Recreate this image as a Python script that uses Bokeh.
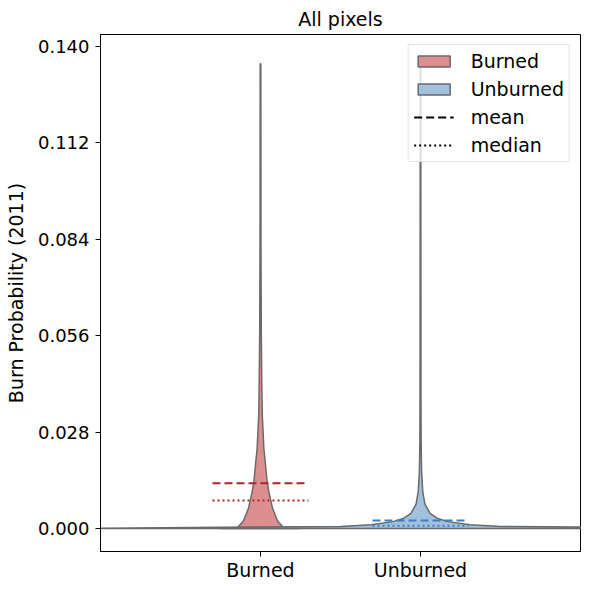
from bokeh.plotting import figure
from bokeh.models import (Range1d, FixedTicker, NumeralTickFormatter, Legend,
                          LegendItem)
from bokeh.embed import file_html
from bokeh.resources import INLINE

# Groups
categories = ["Burned", "Unburned"]

# Kernel-density profiles: burn probability vs. violin half-width (x units)
burned_y = [0.0, 0.0003, 0.002, 0.003, 0.0059, 0.0107, 0.0137, 0.0186,
            0.0233, 0.0331, 0.0427, 0.0572, 0.0805, 0.1095, 0.135]
burned_w = [0.25, 0.144, 0.109, 0.1, 0.075, 0.052, 0.041, 0.031,
            0.021, 0.011, 0.008, 0.005, 0.003, 0.0025, 0.002]

unburned_y = [0.0, 0.0006, 0.0011, 0.002, 0.003, 0.0044, 0.007, 0.0107,
              0.0166, 0.025, 0.037, 0.07, 0.1, 0.1365]
unburned_w = [2.2, 0.5, 0.31, 0.17, 0.104, 0.06, 0.028, 0.014,
              0.007, 0.004, 0.003, 0.0025, 0.002, 0.002]

# Summary statistics
means = [0.01316, 0.00232]
medians = [0.00813, 0.00078]

y_ticks = [0.0, 0.028, 0.056, 0.084, 0.112, 0.140]

FONT = "DejaVu Sans"
fills = ["#dc8f8f", "#a2c1de"]
stat_colors = ["#b22222", "#3d7fbf"]
outline = "#6a6a6a"
NAN = float("nan")

p = figure(frame_width=480, frame_height=517, output_backend="svg",
           toolbar_location=None, x_range=Range1d(-1, 2),
           y_range=Range1d(-0.00668, 0.1435),
           min_border_left=100, min_border_right=10,
           min_border_top=33, min_border_bottom=40,
           background_fill_color="white", border_fill_color="white")

p.title.text = "All pixels"
p.title.align = "center"
p.title.text_font = FONT
p.title.text_font_size = "19px"
p.title.text_font_style = "normal"
p.title.text_color = "black"

p.xgrid.visible = False
p.ygrid.visible = False
p.outline_line_color = "black"
p.outline_line_width = 1
p.outline_line_alpha = 1


def violin(center, ys, ws):
    xs = [center + w for w in ws] + [center - w for w in reversed(ws)]
    yy = list(ys) + list(reversed(ys))
    return xs, yy


profiles = [(burned_y, burned_w), (unburned_y, unburned_w)]
patch_renderers = []
for i, (ys, ws) in enumerate(profiles):
    xs, yy = violin(i, ys, ws)
    r = p.patch(xs, yy, fill_color=fills[i], fill_alpha=1.0,
                line_color=outline, line_width=1.5)
    patch_renderers.append(r)

for i in range(len(categories)):
    p.line([i - 0.3, i + 0.3], [means[i], means[i]], line_color=stat_colors[i],
           line_width=2, line_dash="8 4")
    p.line([i - 0.3, i + 0.3], [medians[i], medians[i]],
           line_color=stat_colors[i], line_width=2, line_dash="2 3")

# Legend proxies for the statistic line styles (nothing drawn in the plot)
mean_key = p.line([NAN, NAN], [NAN, NAN], line_color="black",
                  line_width=1.8, line_dash="8 4")
median_key = p.line([NAN, NAN], [NAN, NAN], line_color="black",
                    line_width=1.8, line_dash="2 3")

legend = Legend(items=[
    LegendItem(label=categories[0], renderers=[patch_renderers[0]]),
    LegendItem(label=categories[1], renderers=[patch_renderers[1]]),
    LegendItem(label="mean", renderers=[mean_key]),
    LegendItem(label="median", renderers=[median_key]),
], location="top_right")
legend.label_text_font = FONT
legend.label_text_font_size = "19px"
legend.label_text_color = "black"
legend.glyph_width = 40
legend.glyph_height = 14
legend.label_standoff = 17
legend.spacing = 6
legend.padding = 5
legend.margin = 10
legend.border_line_color = "#cccccc"
legend.border_line_width = 1
legend.background_fill_alpha = 0.8
p.add_layout(legend)

# Axes
p.xaxis.ticker = FixedTicker(ticks=[0, 1])
p.xaxis.major_label_overrides = {0: categories[0], 1: categories[1]}
p.yaxis.ticker = FixedTicker(ticks=y_ticks)
p.yaxis.formatter = NumeralTickFormatter(format="0.000")
p.yaxis.axis_label = "Burn Probability (2011)"

for ax in (p.xaxis[0], p.yaxis[0]):
    ax.major_label_text_font = FONT
    ax.major_label_text_font_size = "19px"
    ax.major_label_text_color = "black"
    ax.axis_label_text_font = FONT
    ax.axis_label_text_font_size = "19px"
    ax.axis_label_text_font_style = "normal"
    ax.axis_label_text_color = "black"
    ax.major_tick_out = 5
    ax.major_tick_in = 0
    ax.major_tick_line_color = "black"
    ax.minor_tick_line_color = None
    ax.axis_line_color = "black"
    ax.major_label_standoff = 6

p.xaxis.major_label_standoff = 2
p.yaxis.major_label_text_font_size = "18px"
p.yaxis.axis_label_standoff = 8

open("out.html", "w").write(file_html(p, INLINE))
